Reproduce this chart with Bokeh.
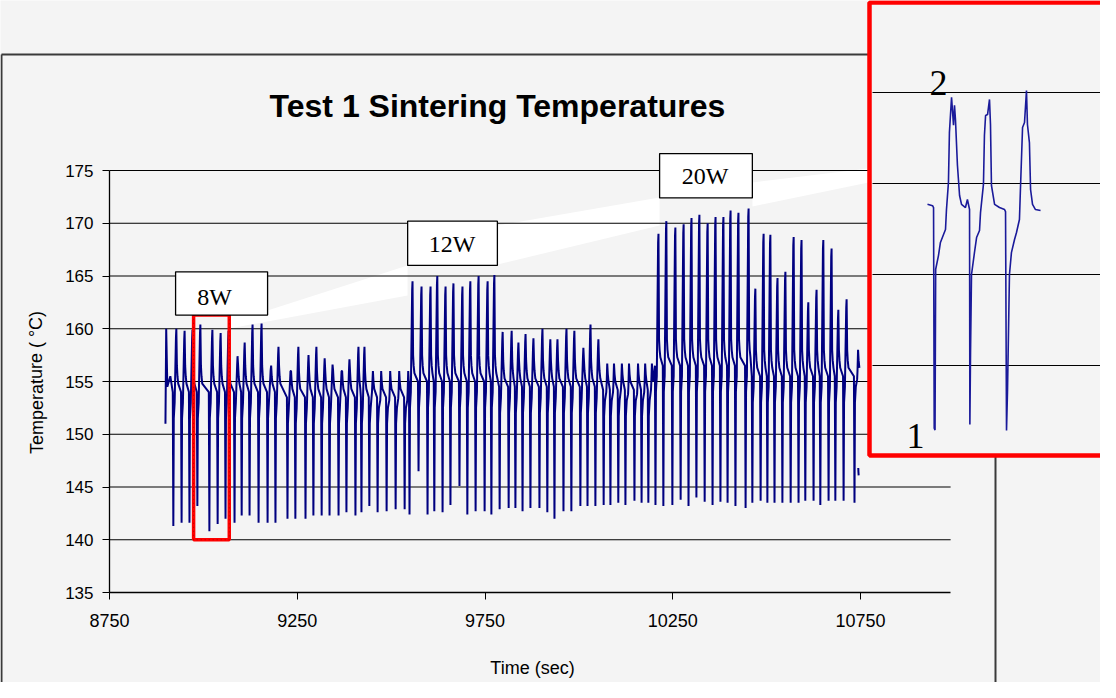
from bokeh.plotting import figure
from bokeh.models import Range1d, FixedTicker
from bokeh.embed import file_html
from bokeh.resources import INLINE
from bokeh.core.properties import value

# ---------------- data ----------------
x_ticks = [8750, 9250, 9750, 10250, 10750]
y_ticks = [135, 140, 145, 150, 155, 160, 165, 170, 175]

# each cycle: time of the downward spike, its low, the following peak, the level in between
cycle_time = [8920, 8942, 8963, 8984, 9016, 9038, 9059, 9083, 9102, 9123, 9147, 9171, 9192,
              9224, 9245, 9272, 9293, 9315, 9336, 9360, 9381, 9405, 9421, 9442, 9464, 9488,
              9512, 9536, 9549, 9573, 9597, 9615, 9637, 9658, 9682, 9703, 9725, 9749, 9767,
              9789, 9813, 9831, 9850, 9871, 9895, 9916, 9935, 9959, 9980, 10004, 10023, 10044,
              10066, 10084, 10105, 10124, 10148, 10167, 10185, 10204, 10225, 10249, 10271,
              10292, 10313, 10335, 10356, 10377, 10396, 10417, 10444, 10462, 10484, 10502,
              10521, 10542, 10564, 10585, 10603, 10625, 10643, 10665, 10683, 10705, 10734]
cycle_low = [141.3, 141.6, 141.6, 143.2, 140.8, 141.5, 142.0, 141.6, 142.3, 142.3, 141.6, 141.6,
             141.6, 142.0, 142.0, 142.0, 142.3, 142.3, 142.3, 142.3, 142.6, 142.3, 142.6, 143.2,
             142.6, 142.7, 142.9, 142.9, 142.4, 146.5, 142.4, 142.7, 142.6, 143.3, 145.1, 142.4,
             142.7, 142.7, 142.4, 142.9, 143.0, 143.0, 142.7, 143.0, 143.0, 142.6, 142.0, 142.7,
             142.7, 143.2, 143.2, 143.2, 143.3, 143.3, 143.5, 143.3, 143.7, 143.5, 143.5, 143.3,
             143.2, 143.3, 143.8, 143.2, 144.0, 143.6, 143.3, 143.6, 143.5, 143.2, 143.0, 143.5,
             143.7, 143.5, 143.5, 143.5, 143.5, 143.5, 143.7, 143.7, 143.3, 143.7, 143.7, 143.7,
             143.5]
cycle_high = [160.0, 159.8, 159.9, 160.4, 159.9, 159.6, 159.8, 157.4, 158.7, 160.4, 160.5, 156.0,
              158.3, 156.0, 158.3, 157.5, 158.3, 157.2, 156.6, 156.0, 157.1, 158.3, 158.3, 154.8,
              154.0, 154.0, 154.2, 154.0, 164.5, 164.0, 164.0, 165.0, 164.0, 164.3, 164.0, 164.5,
              165.0, 164.5, 165.1, 159.7, 159.8, 158.7, 159.5, 159.1, 160.0, 159.0, 159.0, 160.0,
              159.8, 158.2, 160.4, 159.0, 154.8, 154.8, 155.0, 154.6, 154.6, 154.8, 155.0, 169.0,
              170.2, 169.6, 169.9, 170.5, 170.8, 170.0, 170.6, 170.6, 171.2, 171.0, 171.4, 163.8,
              169.0, 168.9, 164.8, 165.4, 168.7, 168.4, 162.5, 163.7, 168.4, 167.6, 161.8, 162.8,
              156.0]
cycle_base = [154.0, 154.0, 154.0, 154.0, 154.0, 154.0, 154.0, 154.0, 154.0, 154.0, 154.0, 154.0,
              154.0, 153.5, 153.5, 153.5, 153.5, 153.5, 153.5, 153.5, 153.5, 153.5, 153.5, 153.5,
              153.5, 153.5, 153.5, 153.5, 155.0, 155.0, 155.0, 155.0, 155.0, 155.0, 155.0, 155.0,
              155.0, 155.0, 155.0, 154.5, 154.5, 154.5, 154.5, 154.5, 154.5, 154.5, 154.5, 154.5,
              154.5, 154.5, 154.5, 154.5, 154.2, 154.2, 154.2, 154.2, 154.2, 154.2, 154.2, 156.5,
              156.5, 156.5, 156.5, 156.5, 156.5, 156.5, 156.5, 156.5, 156.5, 156.5, 156.5, 155.5,
              155.5, 155.5, 155.5, 155.5, 155.5, 155.5, 155.5, 155.5, 155.5, 155.5, 155.5, 155.5,
              155.5]
lead_time = [8899, 8901, 8904, 8912]
lead_temp = [151.0, 160.0, 154.5, 155.5]
tail_time = [10744, 10745]
tail_temp = [146.8, 146.1]

# inset: three cycles, seconds from the start of the trace
inset_time = [0.0, 3.1, 3.7, 4.1, 4.6, 5.0, 6.7, 7.9, 9.8, 11.0, 11.6, 12.8, 13.4, 14.7, 15.9,
              16.5, 17.1, 18.3, 19.6, 20.8, 23.2, 24.4, 25.7,
              25.9, 26.3, 26.9, 28.7, 30.0, 31.8, 32.4, 34.2, 34.8, 35.5, 36.7, 37.9, 38.5, 39.1,
              41.0, 44.0, 47.1, 47.7,
              48.3, 48.9, 50.1, 51.3, 53.2, 54.4, 56.2, 56.8, 58.1, 59.3, 60.5, 61.1, 62.3, 63.0,
              64.2, 66.0, 69.1]
inset_temp = [153.86, 153.78, 153.68, 141.55, 141.45, 150.29, 151.04, 151.76, 152.2, 152.47,
              153.57, 155.05, 157.8, 159.73, 158.2, 159.3, 158.5, 156.0, 154.34, 153.85, 153.68,
              154.12, 153.57,
              141.76, 145.7, 150.0, 151.2, 152.03, 152.42, 153.4, 154.95, 157.64, 158.74, 158.79,
              159.62, 158.24, 154.89, 153.85, 153.68, 153.57, 153.46,
              141.43, 143.6, 150.0, 151.2, 151.92, 152.31, 153.02, 154.67, 158.08, 158.35, 160.11,
              158.24, 157.25, 154.67, 153.85, 153.57, 153.52]
inset_grid = [145, 150, 155, 160]

power_labels = ["8W", "12W", "20W"]

# ---------------- layout ----------------
W, H = 1100, 682
OFF = 8                       # page margin
X0_PX, X_PPU = 117, 0.3755     # page x of 8750 and px per second
Y0_PX, Y_PPU = 600, 10.55      # page y of 135 and px per degree
X_AXIS_END = 10990
IX0_PX, IX_PPU = 935, 1.636    # inset: page x of t=0, px per second
IY0_PX, IY_PPU = 100, 18.2     # inset: page y of 160, px per degree

BG = "#f4f4f4"
NAVY = "#000080"
SANS = "Liberation Sans"
FONT = value(SANS)
SERIF = value("Liberation Serif")

x_rng = Range1d(x_ticks[0] - (X0_PX - OFF) / X_PPU, x_ticks[0] + (OFF + W - X0_PX) / X_PPU)
y_rng = Range1d(y_ticks[0] - (OFF + H - Y0_PX) / Y_PPU, y_ticks[0] + (Y0_PX - OFF) / Y_PPU)

p = figure(width=W, height=H, x_range=x_rng, y_range=y_rng, output_backend="svg",
           toolbar_location=None, min_border=0)
p.extra_x_ranges = {
    "px": Range1d(OFF, OFF + W),
    "ix": Range1d((OFF - IX0_PX) / IX_PPU, (OFF + W - IX0_PX) / IX_PPU),
}
p.extra_y_ranges = {
    "py": Range1d(OFF + H, OFF),
    "iy": Range1d(160 - (OFF + H - IY0_PX) / IY_PPU, 160 - (OFF - IY0_PX) / IY_PPU),
}
p.background_fill_color = BG
p.border_fill_color = BG
p.outline_line_color = None
p.grid.visible = False

# axes placed inside the frame
for ax in p.xaxis:
    ax.fixed_location = y_ticks[0]
    ax.bounds = (x_ticks[0], X_AXIS_END)
    ax.ticker = FixedTicker(ticks=x_ticks)
    ax.axis_line_color = "black"
    ax.axis_line_width = 1.3
    ax.major_tick_out = 7
    ax.major_tick_in = 0
    ax.minor_tick_line_color = None
    ax.major_tick_line_color = "black"
    ax.major_label_standoff = 14
    ax.major_label_text_font = SANS
    ax.major_label_text_font_size = "18px"
    ax.major_label_text_color = "black"
for ax in p.yaxis:
    ax.fixed_location = x_ticks[0]
    ax.bounds = (y_ticks[0], y_ticks[-1])
    ax.ticker = FixedTicker(ticks=y_ticks)
    ax.axis_line_color = "black"
    ax.axis_line_width = 1.3
    ax.major_tick_out = 7
    ax.major_tick_in = 0
    ax.minor_tick_line_color = None
    ax.major_tick_line_color = "black"
    ax.major_label_standoff = 9
    ax.major_label_text_font = SANS
    ax.major_label_text_font_size = "17px"
    ax.major_label_text_color = "black"

pg = dict(x_range_name="px", y_range_name="py")

# chart frame (page coordinates)
p.segment(x0=[9, 9, 1003], y0=[62, 62, 62], x1=[880, 9, 1003], y1=[62, 700, 700],
          line_color="#3a3a3a", line_width=2, **pg)

# white light beams linking the boxes
p.patches(xs=[[237, 275, 415, 415, 237], [505, 667, 667, 505], [760, 876, 876, 760]],
          ys=[[323, 318, 273, 303, 336], [233, 205, 233, 272], [190, 176, 190, 214]],
          fill_color="white", line_color=None, **pg)

# grid lines
gy = y_ticks[1:]
p.segment(x0=[x_ticks[0]] * len(gy), y0=gy, x1=[X_AXIS_END] * len(gy), y1=gy,
          line_color="black", line_width=1.2)

# main trace
main_t, main_v = list(lead_time), list(lead_temp)
for t, lo, hi, b in zip(cycle_time, cycle_low, cycle_high, cycle_base):
    main_t += [t - 1.5, t, t + 1.2, t + 3.5, t + 7, t + 8, t + 9.5, t + 11, t + 13]
    main_v += [b, lo, b - 2.5, b - 1, hi - 0.8, hi, b + 2.5, b + 1.5, b + 0.8]
p.line(main_t, main_v, line_color=NAVY, line_width=2.0)
p.line(tail_time, tail_temp, line_color=NAVY, line_width=2.0)

# zoom window on the 8W section
p.quad(left=[8974], right=[9069], bottom=[140], top=[161.3], fill_color=None,
       line_color="#ff0000", line_width=3.5)
p.quad(left=[8974], right=[9069], bottom=[140], top=[161.3], fill_color=None,
       line_color="#800000", line_width=1, line_dash="1 3", line_alpha=0.6)

# power boxes
p.quad(left=[8926, 9544, 10215], right=[9171, 9783, 10462], bottom=[161.3, 166.0, 172.4],
       top=[165.4, 170.2, 176.6], fill_color="white", line_color="black", line_width=1.3)
p.text(x=[9030, 9662, 10336], y=[163.0, 168.0, 174.5], text=power_labels,
       text_font=SERIF, text_font_size="24px", text_align="center",
       text_baseline="middle", text_color="black")

# inset
p.quad(left=[877], right=[1125], top=[10], bottom=[463], fill_color=BG,
       line_color="#ff0000", line_width=4.5, **pg)
p.segment(x0=[880] * 4, x1=[1110] * 4, y0=inset_grid, y1=inset_grid,
          line_color="black", line_width=1.2, x_range_name="px", y_range_name="iy")
p.line(inset_time, inset_temp, line_color="#1a1a9a", line_width=1.6,
       x_range_name="ix", y_range_name="iy")
p.text(x=[946, 923], y=[90, 443], text=["2", "1"], text_font=SERIF,
       text_font_size="36px", text_align="center", text_baseline="alphabetic",
       text_color="black", **pg)

# title and axis titles
p.text(x=[505], y=[113], text=["Test 1 Sintering Temperatures"], text_font=FONT,
       text_font_style="bold", text_font_size="32px", text_align="center",
       text_baseline="alphabetic", text_color="black", **pg)
p.text(x=[540], y=[675], text=["Time (sec)"], text_font=FONT, text_font_size="18px",
       text_align="center", text_baseline="middle", text_color="black", **pg)
p.text(x=[44], y=[390], text=["Temperature ( \u00b0C)"], text_font=FONT,
       text_font_size="18px", text_align="center", text_baseline="middle",
       angle=1.5708, text_color="black", **pg)

open("out.html", "w").write(file_html(p, INLINE))
